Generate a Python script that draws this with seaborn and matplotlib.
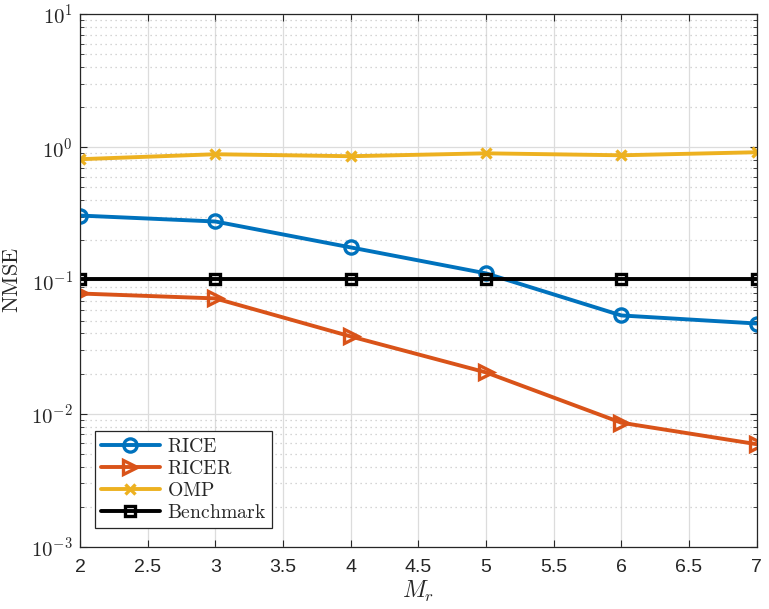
import numpy as np
import pandas as pd
import seaborn as sns
import matplotlib
matplotlib.use("Agg")
import matplotlib.pyplot as plt
from matplotlib.ticker import LogLocator, FuncFormatter, MultipleLocator, NullFormatter

# Data
m_r = [2, 3, 4, 5, 6, 7]
rice = [0.307, 0.277, 0.177, 0.113, 0.0546, 0.0475]
ricer = [0.0798, 0.0733, 0.038, 0.0204, 0.00855, 0.0059]
omp = [0.813, 0.886, 0.856, 0.90, 0.87, 0.917]
benchmark = [0.102, 0.102, 0.102, 0.102, 0.102, 0.102]
labels = ["RICE", "RICER", "OMP", "Benchmark"]

sns.set_style("white")
plt.rcParams['font.family'] = ['Liberation Sans', 'DejaVu Sans']
plt.rcParams['mathtext.fontset'] = 'cm'

fig = plt.figure(figsize=(7.69, 6.09), dpi=100)
ax = fig.add_axes([0.104, 0.102, 0.88, 0.875])

series = [
    (rice, labels[0], "#0072BD", "o", 9.5, 'none'),
    (ricer, labels[1], "#D95319", ">", 10.5, 'none'),
    (omp, labels[2], "#EDB120", "x", 7, None),
    (benchmark, labels[3], "#000000", "s", 7, 'none'),
]
for vals, lab, col, mk, ms, mfc in series:
    kw = dict(marker=mk, markersize=ms, markeredgewidth=2.4, linewidth=2.8)
    if mfc is not None:
        kw['markerfacecolor'] = mfc
    sns.lineplot(x=m_r, y=vals, ax=ax, color=col, label=r"$\mathrm{%s}$" % lab,
                 markeredgecolor=col, **kw)

ax.set_yscale('log')
ax.set_ylim(1e-3, 1e1)
ax.set_xlim(2, 7)
ax.xaxis.set_major_locator(MultipleLocator(0.5))
ax.xaxis.set_major_formatter(FuncFormatter(lambda v, p: ('%g' % v)))
ax.yaxis.set_major_locator(LogLocator(base=10, numticks=10))
ax.yaxis.set_minor_locator(LogLocator(base=10, subs=np.arange(2, 10), numticks=100))
ax.yaxis.set_minor_formatter(NullFormatter())
ax.yaxis.set_major_formatter(FuncFormatter(lambda v, p: r"$\mathsf{10^{%d}}$" % int(round(np.log10(v)))))

ax.grid(True, which='major', color='#dcdcdc', linewidth=0.9, linestyle='-')
ax.grid(True, which='minor', axis='y', color='#c8c8c8', linewidth=0.9, linestyle=(0, (1, 3)))
ax.set_axisbelow(True)

ax.tick_params(which='both', direction='in', top=True, right=True, bottom=True, left=True,
               colors='#262626')
ax.tick_params(axis='x', which='major', labelsize=14, pad=9)
ax.tick_params(axis='y', which='major', labelsize=15, pad=5)
ax.tick_params(which='major', length=5, width=0.8)
ax.tick_params(which='minor', length=3, width=0.6)
for s in ax.spines.values():
    s.set_color('#262626')
    s.set_linewidth(0.9)

ax.set_xlabel(r"$M_r$", fontsize=17, labelpad=2)
ax.set_ylabel(r"$\mathrm{NMSE}$", fontsize=16, labelpad=6)

leg = ax.legend(loc='lower left', bbox_to_anchor=(0.022, 0.036), fontsize=14.2,
                frameon=True, fancybox=False, edgecolor='#262626', framealpha=1,
                borderpad=0.3, labelspacing=0.15, handlelength=3.0, handletextpad=0.35,
                borderaxespad=0)
leg.get_frame().set_linewidth(0.9)

fig.savefig("out.png", dpi=100)
